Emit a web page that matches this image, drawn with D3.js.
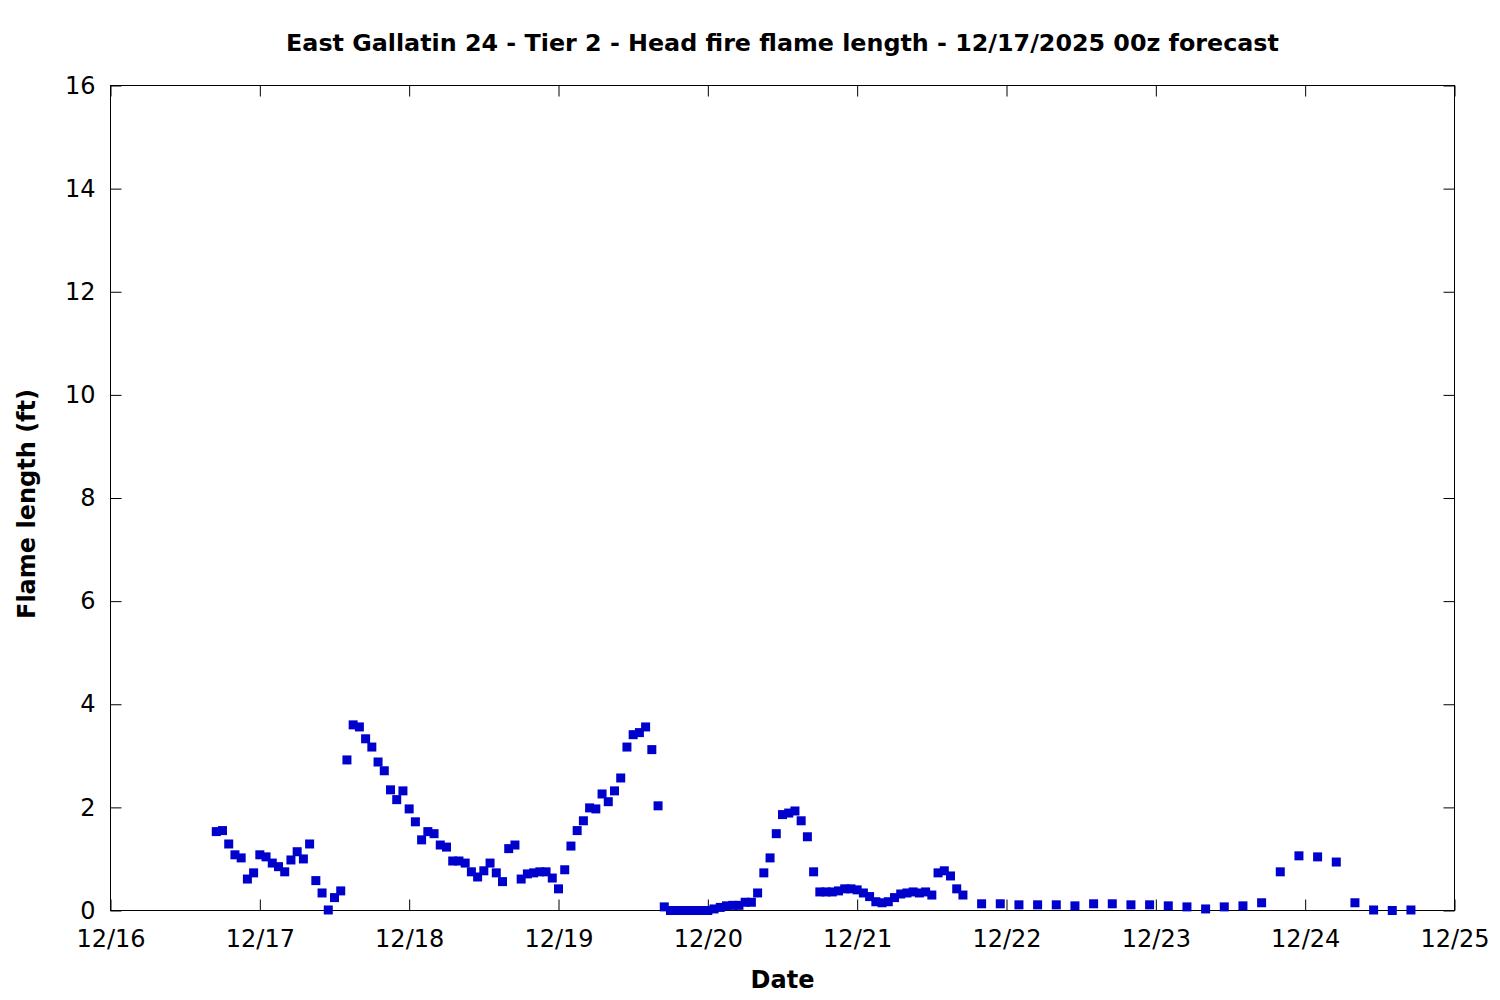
<!DOCTYPE html>
<meta charset="utf-8">
<style>
  body { margin: 0; background: white; }
  text { font-family: "DejaVu Sans", sans-serif; fill: black; }
</style>
<body>
<script src="https://d3js.org/d3.v7.min.js"></script>
<script>

// hourly values, first one valid 12/16 17z
var hourlyStart = Date.UTC(2025, 11, 16, 17);
var hourlyFlame = [
  1.53, 1.55, 1.29, 1.08, 1.02, 0.61, 0.73, 1.08, 1.04, 0.92, 0.85, 0.75, 0.98, 1.14, 1.00, 1.29,
  0.58, 0.34, 0.01, 0.25, 0.38, 2.92, 3.60, 3.56, 3.33, 3.17, 2.88, 2.71, 2.34, 2.15, 2.32, 1.97,
  1.72, 1.37, 1.53, 1.49, 1.27, 1.23, 0.96, 0.96, 0.92, 0.75, 0.65, 0.77, 0.92, 0.73, 0.56, 1.20,
  1.27, 0.61, 0.71, 0.73, 0.75, 0.75, 0.63, 0.42, 0.79, 1.25, 1.55, 1.74, 1.99, 1.97, 2.26, 2.11,
  2.32, 2.57, 3.17, 3.41, 3.45, 3.56, 3.12, 2.03, 0.07, 0.00, 0.00, 0.00, 0.00, 0.00, 0.00, 0.00,
  0.03, 0.06, 0.09, 0.10, 0.10, 0.16, 0.16, 0.34, 0.73, 1.02, 1.49, 1.86, 1.89, 1.93, 1.74, 1.43,
  0.75, 0.36, 0.36, 0.36, 0.38, 0.42, 0.42, 0.40, 0.34, 0.27, 0.17, 0.15, 0.17, 0.25, 0.32, 0.34,
  0.36, 0.34, 0.36, 0.30, 0.73, 0.77, 0.67, 0.42, 0.30
];

// 3-hourly values, first one valid 12/21 20z
var threeHourlyStart = Date.UTC(2025, 11, 21, 20);
var threeHourlyFlame = [
  0.13, 0.13, 0.11, 0.11, 0.11, 0.09, 0.13, 0.13, 0.11, 0.11, 0.09, 0.07, 0.03, 0.07, 0.09, 0.15,
  0.75, 1.06, 1.04, 0.94, 0.15, 0.01, 0.00, 0.01
];

var yTicks = [0, 2, 4, 6, 8, 10, 12, 14, 16];
var titleText = "East Gallatin 24 - Tier 2 - Head fire flame length - 12/17/2025 00z forecast";

var HOUR = 3600 * 1000;
var points = [];
hourlyFlame.forEach((v, i) => points.push({ t: new Date(hourlyStart + i * HOUR), v: v }));
threeHourlyFlame.forEach((v, i) => points.push({ t: new Date(threeHourlyStart + i * 3 * HOUR), v: v }));

const width = 1500, height = 1000;
var plotLeft = 110.5, plotRight = 1454.5, plotTop = 85.5, plotBottom = 910.5;

var xScale = d3.scaleUtc()
  .domain([Date.UTC(2025, 11, 16), Date.UTC(2025, 11, 25)])
  .range([plotLeft, plotRight]);
var yScale = d3.scaleLinear().domain([0, 16]).range([plotBottom, plotTop]);

var svg = d3.select("body").append("svg")
  .attr("width", width)
  .attr("height", height);

var tickLen = 11;
var dayTicks = xScale.ticks(d3.utcDay.every(1));
var fmt = d3.utcFormat("%m/%d");

// x axis (bottom labels, ticks inward on both top and bottom)
var xAxis = d3.axisBottom(xScale).tickValues(dayTicks).tickFormat(fmt)
  .tickSizeInner(-tickLen).tickSizeOuter(0).tickPadding(19);
var gx = svg.append("g").attr("transform", `translate(0,${plotBottom})`).call(xAxis);
gx.select(".domain").remove();
gx.selectAll("text").style("font-size", "24px").attr("fill", "black");

var xAxisTop = d3.axisTop(xScale).tickValues(dayTicks).tickFormat("")
  .tickSizeInner(-tickLen).tickSizeOuter(0);
var gxt = svg.append("g").attr("transform", `translate(0,${plotTop})`).call(xAxisTop);
gxt.select(".domain").remove();

// y axis
var yAxis = d3.axisLeft(yScale).tickValues(yTicks)
  .tickSizeInner(-tickLen).tickSizeOuter(0).tickPadding(15);
var gy = svg.append("g").attr("transform", `translate(${plotLeft},0)`).call(yAxis);
gy.select(".domain").remove();
gy.selectAll("text").style("font-size", "24px").attr("fill", "black");

var yAxisRight = d3.axisRight(yScale).tickValues(yTicks).tickFormat("")
  .tickSizeInner(-tickLen).tickSizeOuter(0);
var gyr = svg.append("g").attr("transform", `translate(${plotRight},0)`).call(yAxisRight);
gyr.select(".domain").remove();

svg.selectAll(".tick line").attr("stroke", "black").attr("stroke-width", 1);

// frame
svg.append("rect")
  .attr("x", plotLeft).attr("y", plotTop)
  .attr("width", plotRight - plotLeft).attr("height", plotBottom - plotTop)
  .attr("fill", "none").attr("stroke", "black").attr("stroke-width", 1);

// points
var sz = 9;
svg.append("g").selectAll("rect")
  .data(points)
  .enter()
  .append("rect")
    .attr("x", d => xScale(d.t) - sz / 2)
    .attr("y", d => yScale(d.v) - sz / 2)
    .attr("width", sz)
    .attr("height", sz)
    .attr("fill", "#0000cc");

// title and axis labels
svg.append("text")
  .attr("x", (plotLeft + plotRight) / 2).attr("y", 51)
  .attr("text-anchor", "middle")
  .style("font-size", "23.8px").style("font-weight", "bold")
  .text(titleText);

svg.append("text")
  .attr("x", (plotLeft + plotRight) / 2).attr("y", 988)
  .attr("text-anchor", "middle")
  .style("font-size", "24px").style("font-weight", "bold")
  .text("Date");

svg.append("text")
  .attr("transform", `translate(35,504) rotate(-90)`)
  .attr("text-anchor", "middle")
  .style("font-size", "24px").style("font-weight", "bold")
  .text("Flame length (ft)");

</script>
</body>
